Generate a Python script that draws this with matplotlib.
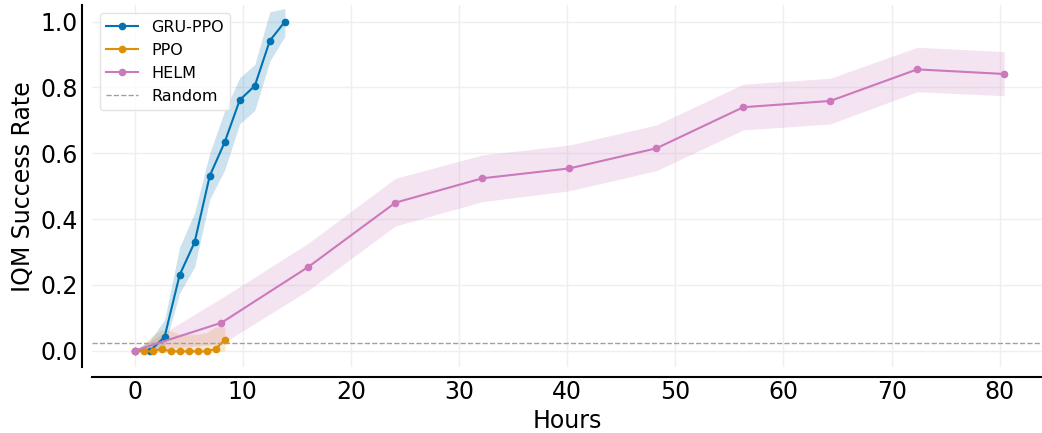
import matplotlib
matplotlib.use("Agg")
import matplotlib.pyplot as plt
import numpy as np

# GRU-PPO
gru_x = [0.0, 1.39, 2.78, 4.17, 5.56, 6.95, 8.34, 9.73, 11.12, 12.51, 13.9]
gru_y = [0.0, -0.002, 0.042, 0.23, 0.33, 0.531, 0.634, 0.762, 0.805, 0.942, 1.0]
gru_lo = [0.0, -0.006, 0.012, 0.175, 0.255, 0.46, 0.55, 0.69, 0.73, 0.88, 0.955]
gru_hi = [0.0, 0.03, 0.094, 0.315, 0.42, 0.60, 0.73, 0.83, 0.87, 1.03, 1.04]

# PPO
ppo_x = [0.0, 0.835, 1.67, 2.5, 3.34, 4.17, 5.0, 5.84, 6.68, 7.51, 8.35]
ppo_y = [0.0, -0.002, -0.002, 0.006, -0.002, -0.002, -0.002, -0.002, -0.002, 0.006, 0.033]
ppo_lo = [0.0, -0.006, -0.006, -0.004, -0.006, -0.006, -0.006, -0.006, -0.006, -0.004, 0.0]
ppo_hi = [0.0, 0.02, 0.045, 0.064, 0.06, 0.05, 0.05, 0.05, 0.055, 0.073, 0.073]

# HELM
helm_x = [0.0, 8.04, 16.08, 24.12, 32.16, 40.2, 48.24, 56.28, 64.32, 72.36, 80.4]
helm_y = [0.0, 0.085, 0.255, 0.45, 0.524, 0.554, 0.615, 0.74, 0.759, 0.855, 0.841]
helm_lo = [0.0, 0.02, 0.184, 0.379, 0.453, 0.486, 0.547, 0.671, 0.689, 0.787, 0.775]
helm_hi = [0.0, 0.160, 0.327, 0.524, 0.595, 0.625, 0.686, 0.81, 0.828, 0.922, 0.909]

random_level = 0.023

labels = ["GRU-PPO", "PPO", "HELM"]
colors = ["#0173b2", "#de8f05", "#cc78bc"]

fig = plt.figure(figsize=(10.42, 4.33), dpi=100)
ax = fig.add_axes([0.0883, 0.152, 0.9117, 0.836])

series = [(gru_x, gru_y, gru_lo, gru_hi), (ppo_x, ppo_y, ppo_lo, ppo_hi),
          (helm_x, helm_y, helm_lo, helm_hi)]
for (x, y, lo, hi), lab, c in zip(series, labels, colors):
    ax.fill_between(x, lo, hi, color=c, alpha=0.2, linewidth=0)
    ax.plot(x, y, color=c, marker="o", markersize=4.5, linewidth=1.5, label=lab)

ax.axhline(random_level, color="#a0a0a0", linestyle="--", linewidth=1.0, label="Random")

ax.set_xlim(-3.93, 83.9)
ax.set_ylim(-0.05, 1.05)
ax.set_xticks([0, 10, 20, 30, 40, 50, 60, 70, 80])
ax.set_yticks([0.0, 0.2, 0.4, 0.6, 0.8, 1.0])
ax.grid(True, color="#efefef", linewidth=1.0)
ax.set_axisbelow(True)

for s in ["top", "right"]:
    ax.spines[s].set_visible(False)
for s in ["left", "bottom"]:
    ax.spines[s].set_position(("outward", 7.0))
    ax.spines[s].set_linewidth(1.5)
    ax.spines[s].set_color("black")

ax.tick_params(axis="both", length=0, labelsize=17)
ax.tick_params(axis="x", pad=2.5)
ax.tick_params(axis="y", pad=3)
ax.set_xlabel("Hours", fontsize=17, labelpad=3)
ax.set_ylabel("IQM Success Rate", fontsize=17, labelpad=4)

ax.legend(loc="upper left", fontsize=11.5, frameon=True, framealpha=0.8,
          edgecolor="#dddddd", borderaxespad=0.5)

fig.savefig("out.png", dpi=100)
